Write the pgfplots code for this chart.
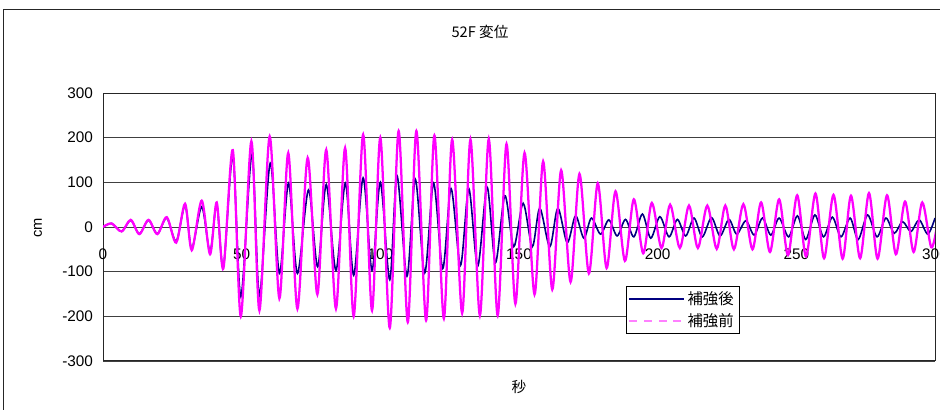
\documentclass[border=0pt]{standalone}
\usepackage{fontspec}
\setmainfont{Liberation Sans}
\newfontfamily\jp{Noto Sans CJK JP}
\usepackage{pgfplots}
\pgfplotsset{compat=1.18}
\definecolor{navyb}{HTML}{000080}
\definecolor{magb}{HTML}{FF00FF}
\definecolor{magl}{HTML}{FF80FF}
\begin{document}
\begin{tikzpicture}
\path[use as bounding box] (0,0) rectangle (705pt,307.5pt);
\draw[black!85, line width=0.75pt] (2.25pt,-10pt) rectangle (720pt,300pt);
\node[font=\jp\fontsize{11}{12}\selectfont] at (360pt,283.5pt) {52F 変位};
\node[font=\jp\fontsize{11}{12}\selectfont] at (389.25pt,17.25pt) {秒};
\node[font=\fontsize{11}{12}\selectfont, rotate=90] at (28.5pt,136.5pt) {cm};
\begin{axis}[
  at={(77.25pt,36.75pt)}, anchor=south west,
  width=624pt, height=201pt, scale only axis,
  xmin=0, xmax=300, ymin=-300, ymax=300,
  xtick={0,50,...,300}, ytick={-300,-200,...,300},
  ymajorgrids, grid style={black!75, line width=0.6pt},
  axis line style={black!85, line width=0.75pt},
  major tick length=0pt,
  /pgf/number format/assume math mode=true,
  tick label style={font=\fontsize{11.5}{12}\selectfont},
  xticklabel style={yshift=88pt},
  yticklabel style={xshift=-4pt},
  legend style={at={(0.6965,0.19)}, anchor=center, draw=black, line width=0.6pt,
    font=\jp\fontsize{11.5}{13}\selectfont, inner sep=2pt, row sep=1pt, fill=white},
  legend cell align=left,
  legend image code/.code={\draw[#1] (0pt,0pt) -- (41pt,0pt);},
]
\addplot[navyb, line width=1.2pt, smooth, tension=0.5] coordinates {
(0,0) (3.1,8) (6.7,-10) (10.0,15) (13.1,-15) (16.4,15) (19.6,-15) (23.0,20) (26.4,-32) (29.6,48) (32.0,-48) (35.6,45) (38.6,-55) (41.0,50) (43.4,-90) (46.8,158) (49.7,-156) (53.7,162) (56.4,-153) (60.3,143) (63.6,-104) (66.9,98) (70.1,-104) (74.1,83) (77.4,-89) (80.5,95) (84.0,-97) (87.4,98) (90.4,-108) (93.8,110) (97.0,-97) (100.0,100)
(103.4,-118) (106.0,115) (109.6,-110) (112.6,107) (116.0,-103) (119.2,98) (122.5,-93) (125.5,86) (128.9,-86) (131.9,86) (135.1,-88) (138.5,89) (141.5,-80) (144.9,70) (148.1,-44) (151.5,53)
(154.8,-44) (157.5,42) (161.1,-44) (164.0,42) (167.4,-35) (170.4,25) (173.4,-25) (176.1,20) (179.4,-16) (182.4,16) (185.4,-20) (188.4,17) (191.4,-22) (194.5,29) (197.5,-25) (200.8,23)
(204.1,-22) (207.1,17) (210.1,-20) (213.1,20) (216.1,-22) (219.4,21) (222.5,-20) (225.7,17) (228.5,-16) (231.8,14) (234.8,-18) (237.8,20) (240.8,-18) (243.8,20) (247.2,-22) (250.4,25)
(253.4,-28) (256.7,27) (259.8,-22) (263.0,22) (266.1,-22) (269.4,20) (272.3,-28) (275.7,27) (279.1,-22) (282.3,20) (285.3,-14) (288.3,12) (291.3,-10) (294.3,16) (297.4,-16) (300.0,20)
};
\addlegendentry{補強後}
\addlegendimage{magl, line width=1.2pt, dash pattern=on 6pt off 5pt}
\addlegendentry{補強前}
\addplot[magb, line width=1.7pt, smooth, tension=0.5, forget plot] coordinates {
(0,0) (3.1,8) (6.7,-10) (10.0,16) (13.1,-16) (16.4,16) (19.6,-16) (23.0,22) (26.4,-35) (29.6,52) (32.0,-52) (35.6,59) (38.6,-61) (41.0,55) (43.4,-93) (46.8,172) (49.7,-200) (53.5,192) (56.4,-187) (60.1,203) (63.6,-160) (66.8,166) (70.1,-183) (73.8,155) (77.3,-151) (80.5,173) (84.0,-183) (87.3,177) (90.4,-200) (93.8,207) (97.0,-187) (100.0,200)
(103.4,-226) (106.6,215) (109.9,-213) (113.0,215) (116.5,-209) (119.5,205) (122.9,-205) (125.9,196) (129.5,-193) (132.5,196) (135.9,-198) (139.1,197) (142.3,-198) (145.5,186) (148.7,-172) (152.0,166)
(155.6,-151) (158.7,147) (162.0,-140) (165.2,127) (168.6,-123) (171.8,119) (175.2,-104) (178.4,98) (181.6,-92) (184.8,80) (188.2,-76) (191.4,62) (194.8,-59) (197.9,54) (201.4,-47)
(204.5,50) (208.0,-47) (211.3,48) (214.5,-47) (217.9,48) (221.3,-49) (224.4,48) (227.5,-50) (230.9,51) (234.2,-50) (237.3,55) (240.5,-56) (243.8,62) (247.0,-63) (250.3,71)
(253.5,-66) (256.9,75) (260.0,-70) (263.4,72) (266.7,-71) (269.7,70) (273.0,-70) (276.2,76) (279.3,-71) (282.7,71) (285.9,-61) (289.2,57) (292.3,-56) (295.4,55) (298.6,-45) (300.5,-5)
};
\end{axis}
\end{tikzpicture}
\end{document}
